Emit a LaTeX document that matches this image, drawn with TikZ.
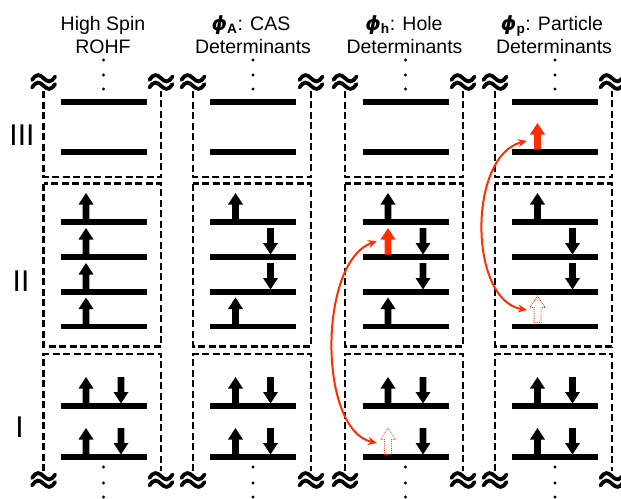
\documentclass[tikz,border=0pt]{standalone}
\usepackage{fontspec}
\setmainfont{Liberation Sans}
\newfontfamily\phifont{DejaVu Sans}
\usetikzlibrary{arrows.meta}
\definecolor{hred}{RGB}{255,45,0}
\begin{document}
\begin{tikzpicture}[x=1pt,y=-1pt,
  dbox/.style={line width=2.8pt, dash pattern=on 7pt off 3.5pt},
  bar/.style={line width=5.2pt},
  sq/.style={line width=3.8pt, line cap=round},
  redc/.style={hred, line width=2pt, {Stealth[length=9pt,width=8pt]}-{Stealth[length=9pt,width=8pt]}},
  head/.style={font=\fontsize{19.5}{23}\selectfont, anchor=base, inner sep=0pt},
  lvl/.style={font=\fontsize{30}{30}\selectfont, inner sep=0pt},
  upa/.pic={\fill (-3.4,0) -- (-3.4,-15) -- (-7.5,-15) -- (0,-26.5) -- (7.5,-15) -- (3.4,-15) -- (3.4,0) -- cycle;},
  dna/.pic={\fill (-3.4,-26.5) -- (-3.4,-11.5) -- (-7.5,-11.5) -- (0,0) -- (7.5,-11.5) -- (3.4,-11.5) -- (3.4,-26.5) -- cycle;},
  upred/.pic={\fill[hred] (-3.4,0) -- (-3.4,-15) -- (-7.5,-15) -- (0,-26.5) -- (7.5,-15) -- (3.4,-15) -- (3.4,0) -- cycle;},
  uphol/.pic={\draw[hred, line width=0.8pt, densely dotted] (-3.4,0) -- (-3.4,-15) -- (-7.5,-15) -- (0,-26.5) -- (7.5,-15) -- (3.4,-15) -- (3.4,0) -- cycle;},
  squig/.pic={
    \draw[sq] (-11.5,-2) .. controls (-7,-9) and (-4,-7.5) .. (0,-3.8) .. controls (4,0) and (7,1.5) .. (11.5,-5.5);
    \draw[sq] (-11.5,5.5) .. controls (-7,-1.5) and (-4,0) .. (0,3.8) .. controls (4,7.5) and (7,9) .. (11.5,2);
  }
]
\useasboundingbox (0,0) rectangle (621,498);

% headers
\node[head] (h1a) at (103,30) {High Spin};
\node[head] (h1b) at (103,53) {ROHF};
\node[head] (h2a) at (251,30) {{\phifont\bfseries\itshape ϕ}\textsubscript{\bfseries A}: CAS};
\node[head] (h2b) at (253,53) {Determinants};
\node[head] (h3a) at (404,30) {{\phifont\bfseries\itshape ϕ}\textsubscript{\bfseries h}: Hole};
\node[head] (h3b) at (404.5,53) {Determinants};
\node[head] (h4a) at (552,30) {{\phifont\bfseries\itshape ϕ}\textsubscript{\bfseries p}: Particle};
\node[head] (h4b) at (554,53) {Determinants};

% level labels
\node[lvl] (l3) at (22,135) {III};
\node[lvl] (l2) at (21,281) {II};
\node[lvl] (l1) at (19.5,427.5) {I};

% columns
\foreach \L/\R/\c in {43.6/161/103.5, 193/311/253, 345/463/405.5, 495/612/555} {
  \draw[dbox] (\L,91) -- (\L,177) -- (\R,177) -- (\R,91);
  \draw[dbox] (\L,183.5) rectangle (\R,346.5);
  \draw[dbox] (\L,471) -- (\L,354) -- (\R,354) -- (\R,471);
  \pic at (\L,82) {squig};
  \pic at (\R,82) {squig};
  \pic at (\L,480) {squig};
  \pic at (\R,480) {squig};
  \foreach \y in {60,75,89,467,483,497} \fill (\c,\y) circle (1.6);
  \foreach \y in {102,152,222,257,292,326.5,406,457} \draw[bar] (\c-43,\y) -- (\c+43,\y);
  \pic at (\c-17.5,403.5) {upa};
  \pic at (\c+17.5,403.5) {dna};
  \pic at (\c+17.5,454.5) {dna};
}
\foreach \c in {103.5,253,555} \pic at (\c-17.5,454.5) {upa};

% column 1, level II
\foreach \y in {219.5,254.5,289.5,324} \pic at (86,\y) {upa};
% column 2, level II
\pic at (235.5,219.5) {upa};
\pic at (270.5,254.5) {dna};
\pic at (270.5,289.5) {dna};
\pic at (235.5,324) {upa};
% column 3, level II
\pic at (388,219.5) {upa};
\pic at (388,254.5) {upred};
\pic at (423,254.5) {dna};
\pic at (423,289.5) {dna};
\pic at (388,324) {upa};
\pic at (388,454.5) {uphol};
% column 4
\pic at (537.5,149.5) {upred};
\pic at (537.5,219.5) {upa};
\pic at (572.5,254.5) {dna};
\pic at (572.5,289.5) {dna};
\pic at (537.5,322.5) {uphol};

% excitation arrows
\coordinate (c3t) at (377,241);
\coordinate (c3b) at (377,443);
\coordinate (c4t) at (527,141);
\coordinate (c4b) at (527,310);
\draw[redc] (c3b) .. controls (318,430) and (318,262) .. (c3t);
\draw[redc] (c4b) .. controls (468,300) and (468,155) .. (c4t);
\end{tikzpicture}
\end{document}
